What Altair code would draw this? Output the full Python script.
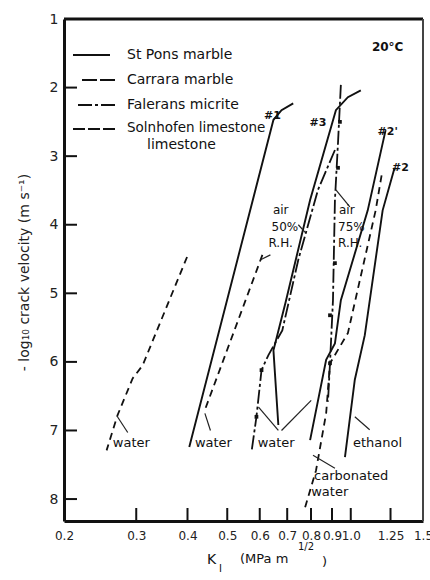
import altair as alt
import pandas as pd

FONT = "DejaVu Sans"

# ---------------- axes ----------------
x_ticks = [0.2, 0.3, 0.4, 0.5, 0.6, 0.7, 0.8, 0.9, 1.0, 1.25, 1.5]
x_inner_ticks = [0.3, 0.4, 0.5, 0.6, 0.7, 0.8, 0.9, 1.0, 1.25]
y_ticks = [1, 2, 3, 4, 5, 6, 7, 8]
y_inner_ticks = [2, 3, 4, 5, 6, 7, 8]

# ---------------- curves: K_I (MPa m^1/2) vs -log10 v ----------------
st_pons_1_k = [0.724, 0.678, 0.648, 0.404]
st_pons_1_v = [2.23, 2.33, 2.47, 7.24]

st_pons_3_k = [1.058, 0.984, 0.920, 0.796, 0.693, 0.648, 0.652, 0.666]
st_pons_3_v = [2.04, 2.14, 2.33, 3.64, 5.14, 5.83, 6.08, 6.92]

st_pons_2a_k = [1.216, 1.100, 0.946, 0.915, 0.871, 0.796]
st_pons_2a_v = [2.62, 3.79, 5.10, 5.73, 5.97, 7.14]

st_pons_2_k = [1.279, 1.196, 1.082, 1.023, 0.968]
st_pons_2_v = [3.17, 3.79, 5.61, 6.26, 7.39]

carrara_water_k = [0.399, 0.311, 0.294, 0.270, 0.254]
carrara_water_v = [4.47, 6.05, 6.24, 6.78, 7.29]

carrara_air50_k = [0.609, 0.441]
carrara_air50_v = [4.44, 6.70]

carrara_co2_k = [1.189, 1.150, 0.984, 0.890, 0.871, 0.823, 0.774]
carrara_co2_v = [3.28, 3.79, 5.58, 6.02, 6.75, 7.58, 8.12]

falerans_air50_k = [0.915, 0.832, 0.745, 0.681, 0.630, 0.606, 0.589, 0.573]
falerans_air50_v = [2.91, 3.49, 4.51, 5.54, 5.90, 6.12, 6.80, 7.31]

falerans_air75_k = [0.946, 0.931, 0.915, 0.905, 0.890, 0.880]
falerans_air75_v = [1.96, 2.80, 3.64, 5.10, 6.02, 6.58]

# data points marked along the micrite curves
falerans_pts_k = [0.941, 0.931, 0.915, 0.890, 0.890, 0.606, 0.589]
falerans_pts_v = [2.50, 3.17, 4.56, 5.32, 6.02, 6.12, 6.80]

curves = [
    ("st_pons_1", "solid", st_pons_1_k, st_pons_1_v),
    ("st_pons_3", "solid", st_pons_3_k, st_pons_3_v),
    ("st_pons_2a", "solid", st_pons_2a_k, st_pons_2a_v),
    ("st_pons_2", "solid", st_pons_2_k, st_pons_2_v),
    ("carrara_water", "dashed", carrara_water_k, carrara_water_v),
    ("carrara_air50", "dashed", carrara_air50_k, carrara_air50_v),
    ("carrara_co2", "dashed", carrara_co2_k, carrara_co2_v),
    ("falerans_air50", "dashdot", falerans_air50_k, falerans_air50_v),
    ("falerans_air75", "dashdot", falerans_air75_k, falerans_air75_v),
]

# ---------------- labels and their leader lines ----------------
leaders = [
    ([0.270, 0.286], [6.80, 7.03]),
    ([0.441, 0.455], [6.75, 7.00]),
    ([0.596, 0.666], [6.66, 7.00]),
    ([0.801, 0.678], [6.56, 7.00]),
    ([1.023, 1.112], [6.80, 6.99]),
    ([0.809, 0.915], [7.36, 7.55]),
    ([0.637, 0.603], [4.44, 4.51]),
    ([0.745, 0.774], [4.00, 4.11]),
    ([0.920, 0.995], [3.49, 3.74]),
]

tag_text = ["#1", "#3", "#2'", "#2", "20°C"]
tag_k = [0.644, 0.832, 1.230, 1.322, 1.230]
tag_v = [2.41, 2.52, 2.65, 3.17, 1.41]
tag_size = [11, 11, 11, 11, 12]

notes_text = ["air", "50%", "R.H.", "air", "75%", "R.H.",
              "water", "water", "water", "ethanol", "carbonated", "water"]
notes_k = [0.646, 0.641, 0.630, 0.936, 0.931, 0.931,
           0.263, 0.417, 0.593, 1.012, 0.814, 0.801]
notes_v = [3.79, 4.03, 4.27, 3.79, 4.03, 4.27,
           7.18, 7.18, 7.18, 7.18, 7.66, 7.90]
notes_size = [12, 12, 12, 12, 12, 12, 13, 13, 13, 13, 13, 13]

# ---------------- tables ----------------
rows = []
for name, style, ks, vs in curves:
    for i, (k, v) in enumerate(zip(ks, vs)):
        rows.append({"curve": name, "style": style, "order": i, "K": k, "v": v})
curve_df = pd.DataFrame(rows)

lead_rows = []
for j, (ks, vs) in enumerate(leaders):
    for i, (k, v) in enumerate(zip(ks, vs)):
        lead_rows.append({"curve": f"lead{j}", "order": i, "K": k, "v": v})
lead_df = pd.DataFrame(lead_rows)

pts_df = pd.DataFrame({"K": falerans_pts_k, "v": falerans_pts_v})
tags_df = pd.DataFrame({"text": tag_text, "K": tag_k, "v": tag_v, "size": tag_size})
notes_df = pd.DataFrame({"text": notes_text, "K": notes_k, "v": notes_v,
                         "size": notes_size})

W, H = 359, 502
xs = alt.Scale(type="log", domain=[0.2, 1.5], nice=False)
ys = alt.Scale(domain=[1, 8.32], reverse=True, nice=False, zero=False)

x_axis = alt.Axis(values=x_ticks, format=".2~f",
                  labelExpr="datum.value == 1 ? '1.0' : datum.label",
                  ticks=False, grid=False, domainWidth=3, domainColor="#111",
                  labelPadding=9, labelFontSize=12, labelFont=FONT,
                  labelColor="#222", labelFlush=False, labelOverlap=False, title=None)
y_axis = alt.Axis(values=y_ticks, ticks=False, grid=False, domainWidth=3,
                  domainColor="#111", labelPadding=6, labelFontSize=14,
                  labelFont=FONT, labelColor="#222", labelFlush=False,
                  title="- log₁₀   crack   velocity   (m s⁻¹)",
                  titleFont=FONT, titleFontSize=14, titleFontWeight="normal",
                  titleColor="#222", titleX=-40, titleY=H / 2 + 2, titleAngle=270,
                  titleAlign="center", titleBaseline="middle")


def X():
    return alt.X("K:Q", scale=xs, axis=x_axis)


def Y():
    return alt.Y("v:Q", scale=ys, axis=y_axis)


base = alt.Chart(curve_df)
solid = base.transform_filter(alt.datum.style == "solid").mark_line(
    color="#111", strokeWidth=1.9).encode(
    x=X(), y=Y(), detail="curve:N", order="order:Q")
dashed = base.transform_filter(alt.datum.style == "dashed").mark_line(
    color="#111", strokeWidth=1.8, strokeDash=[7, 5]).encode(
    x=X(), y=Y(), detail="curve:N", order="order:Q")
dashdot = base.transform_filter(alt.datum.style == "dashdot").mark_line(
    color="#111", strokeWidth=1.8, strokeDash=[14, 3, 3, 3]).encode(
    x=X(), y=Y(), detail="curve:N", order="order:Q")

lead = alt.Chart(lead_df).mark_line(color="#222", strokeWidth=1.2).encode(
    x=X(), y=Y(), detail="curve:N", order="order:Q")

pts = alt.Chart(pts_df).mark_point(shape="square", filled=True, color="#111",
                                   size=14, opacity=1).encode(x=X(), y=Y())

tags = alt.Chart(tags_df).mark_text(align="center", baseline="middle", font=FONT,
                                    fontWeight="bold", color="#111").encode(
    x=X(), y=Y(), text="text:N", size=alt.Size("size:Q", scale=None, legend=None))
notes = alt.Chart(notes_df).mark_text(align="left", baseline="middle", font=FONT,
                                      color="#111").encode(
    x=X(), y=Y(), text="text:N", size=alt.Size("size:Q", scale=None, legend=None))

# inward tick marks
xt = alt.Chart(pd.DataFrame({"K": x_inner_ticks})).mark_rule(
    color="#111", strokeWidth=2).encode(x=X(), y=alt.value(H), y2=alt.value(H - 13))
yt = alt.Chart(pd.DataFrame({"v": y_inner_ticks})).mark_rule(
    color="#111", strokeWidth=2).encode(y=Y(), x=alt.value(0), x2=alt.value(13))

# top and right frame edges
top_edge = alt.Chart(pd.DataFrame({"a": [0]})).mark_rule(
    color="#111", strokeWidth=3).encode(x=alt.value(0), x2=alt.value(W), y=alt.value(0))
right_edge = alt.Chart(pd.DataFrame({"a": [0]})).mark_rule(
    color="#444", strokeWidth=2).encode(x=alt.value(W), y=alt.value(0), y2=alt.value(H))

# key in the upper left corner (pixel layout within the plot)
key_rows = [
    (9, 46, 36, [1, 0]),
    (18, 51, 61, [15, 3]),
    (14, 51, 86, [14, 3, 3, 3, 14]),
    (9, 51, 110, [12, 3]),
]
key_lines = []
for x0, x1, yy, dash in key_rows:
    key_lines.append(
        alt.Chart(pd.DataFrame({"a": [0]})).mark_rule(
            color="#111", strokeWidth=1.9, strokeDash=dash).encode(
            x=alt.value(x0), x2=alt.value(x1), y=alt.value(yy)))
key_text_df = pd.DataFrame({
    "text": ["St Pons  marble", "Carrara  marble", "Falerans  micrite",
             "Solnhofen limestone", "limestone"],
    "px": [63, 63, 63, 63, 83],
    "py": [36, 61, 86, 109, 126],
    "size": [14, 14, 14, 13.5, 14],
})
key_text = alt.Chart(key_text_df).mark_text(
    align="left", baseline="middle", font=FONT, color="#111").encode(
    x=alt.X("px:Q", scale=None), y=alt.Y("py:Q", scale=None), text="text:N",
    size=alt.Size("size:Q", scale=None, legend=None))

# x-axis title assembled from pieces (subscript / superscript)
xtitle_df = pd.DataFrame({
    "text": ["K", "I", "(MPa   m", "1/2", ")"],
    "px": [143, 155, 176, 234, 258],
    "py": [541, 550, 540, 528, 543],
    "size": [14, 10, 13, 10, 13],
})
xtitle = alt.Chart(xtitle_df).mark_text(
    align="left", baseline="middle", font=FONT, color="#111").encode(
    x=alt.X("px:Q", scale=None), y=alt.Y("py:Q", scale=None), text="text:N",
    size=alt.Size("size:Q", scale=None, legend=None))

chart = alt.layer(
    solid, dashed, dashdot, lead, pts, tags, notes, xt, yt, top_edge, right_edge,
    *key_lines, key_text, xtitle
).properties(
    width=W, height=H, autosize="none", background="white",
    padding={"left": 64, "top": 19, "right": 7, "bottom": 59},
).configure_view(stroke=None)

chart.save("out.html", embed_options={"renderer": "svg", "actions": False})
